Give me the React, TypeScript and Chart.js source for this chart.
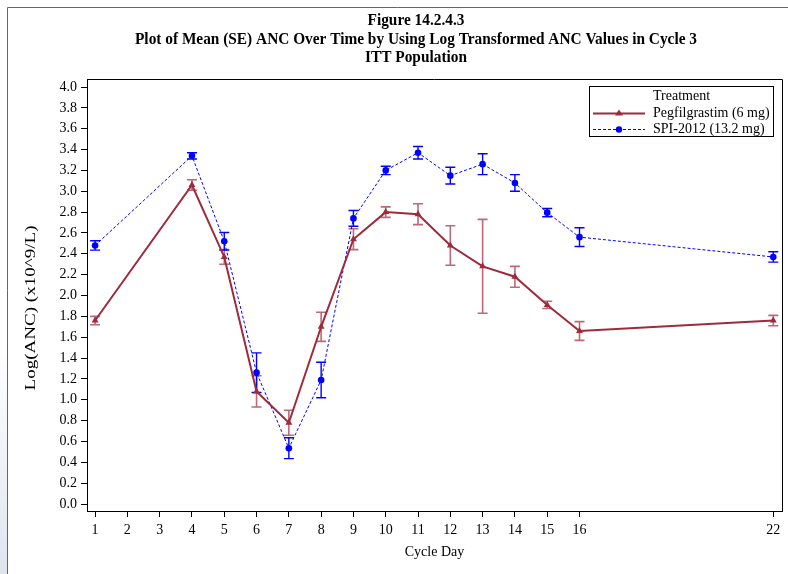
import React, { useEffect, useRef } from "react";
import { Chart, registerables } from "chart.js";
Chart.register(...registerables);

const DAYS = [1, 4, 5, 6, 7, 8, 9, 10, 11, 12, 13, 14, 15, 16, 22];
const PEG_MEAN = [1.76, 3.06, 2.37, 1.08, 0.78, 1.7, 2.54, 2.8, 2.78, 2.48, 2.28, 2.18, 1.91, 1.66, 1.76];
const PEG_SE = [0.04, 0.05, 0.07, 0.15, 0.12, 0.14, 0.1, 0.05, 0.1, 0.19, 0.45, 0.1, 0.035, 0.09, 0.05];
const SPI_MEAN = [2.48, 3.34, 2.52, 1.26, 0.535, 1.19, 2.74, 3.2, 3.37, 3.15, 3.26, 3.08, 2.795, 2.56, 2.37];
const SPI_SE = [0.045, 0.03, 0.085, 0.19, 0.1, 0.17, 0.075, 0.04, 0.06, 0.08, 0.1, 0.08, 0.04, 0.09, 0.05];

const X_TICKS = [1, 2, 3, 4, 5, 6, 7, 8, 9, 10, 11, 12, 13, 14, 15, 16, 22];
const Y_TICKS = [0, 0.2, 0.4, 0.6, 0.8, 1.0, 1.2, 1.4, 1.6, 1.8, 2.0, 2.2, 2.4, 2.6, 2.8, 3.0, 3.2, 3.4, 3.6, 3.8, 4.0];

const TITLE_LINES = [
  "Figure 14.2.4.3",
  "Plot of Mean (SE) ANC Over Time by Using Log Transformed ANC Values in Cycle 3",
  "ITT Population",
];
const X_TITLE = "Cycle Day";
const Y_TITLE = "Log(ANC) (x10^9/L)";
const LEGEND_TITLE = "Treatment";
const SERIES_NAMES = ["Pegfilgrastim (6 mg)", "SPI-2012 (13.2 mg)"];

const RED = "#9E2A3C";
const RED_ERR = "rgba(158,42,60,0.7)";
const BLUE = "#0000FF";
const SERIF = "'Liberation Serif', 'Times New Roman', serif";

const ERRORS = [PEG_SE, SPI_SE];
const MEANS = [PEG_MEAN, SPI_MEAN];

const errorBarPlugin = {
  id: "errorBars",
  beforeDatasetsDraw(chart: any) {
    const ctx = chart.ctx;
    const xs = chart.scales.x;
    const ys = chart.scales.y;
    ctx.save();
    MEANS.forEach((means, di) => {
      ctx.strokeStyle = di === 0 ? RED_ERR : BLUE;
      ctx.lineWidth = di === 0 ? 1.6 : 1.4;
      means.forEach((m, i) => {
        const se = ERRORS[di][i];
        const x = xs.getPixelForValue(DAYS[i]);
        const yt = ys.getPixelForValue(m + se);
        const yb = ys.getPixelForValue(m - se);
        ctx.beginPath();
        ctx.moveTo(x, yt);
        ctx.lineTo(x, yb);
        ctx.moveTo(x - 5, yt);
        ctx.lineTo(x + 5, yt);
        ctx.moveTo(x - 5, yb);
        ctx.lineTo(x + 5, yb);
        ctx.stroke();
      });
    });
    ctx.restore();
  },
};

const decorPlugin = {
  id: "decor",
  afterDraw(chart: any) {
    const ctx = chart.ctx;
    const a = chart.chartArea;
    ctx.save();
    // frame top/right
    ctx.strokeStyle = "#000";
    ctx.lineWidth = 1;
    ctx.beginPath();
    ctx.moveTo(a.left, Math.round(a.top) + 0.5);
    ctx.lineTo(Math.round(a.right) + 0.5, Math.round(a.top) + 0.5);
    ctx.lineTo(Math.round(a.right) + 0.5, a.bottom);
    ctx.stroke();
    // outer frame
    ctx.strokeStyle = "#666";
    ctx.beginPath();
    ctx.moveTo(7.5, 574);
    ctx.lineTo(7.5, 7.5);
    ctx.lineTo(788, 7.5);
    ctx.stroke();

    ctx.fillStyle = "#000";
    ctx.textAlign = "center";
    ctx.textBaseline = "middle";
    // titles (condensed bold)
    ctx.font = `bold 16px ${SERIF}`;
    const sx = 562 / ctx.measureText(TITLE_LINES[1]).width;
    const ty = [21, 39.5, 58];
    TITLE_LINES.forEach((t, i) => {
      ctx.save();
      ctx.translate(416, ty[i]);
      ctx.scale(sx, 1);
      ctx.fillText(t, 0, 0);
      ctx.restore();
    });

    ctx.font = `14px ${SERIF}`;
    ctx.fillText(X_TITLE, (a.left + a.right) / 2, 552);

    ctx.save();
    ctx.font = `15px ${SERIF}`;
    const ly0 = 165 / ctx.measureText(Y_TITLE).width;
    ctx.translate(31, 308);
    ctx.rotate(-Math.PI / 2);
    ctx.scale(ly0, 1);
    ctx.fillText(Y_TITLE, 0, 0);
    ctx.restore();

    // legend
    const lx = 589.5, ly = 86.5, lw = 184, lh = 50;
    ctx.strokeStyle = "#000";
    ctx.lineWidth = 1;
    ctx.strokeRect(lx, ly, lw, lh);
    ctx.textAlign = "left";
    ctx.font = `14px ${SERIF}`;
    ctx.fillText(LEGEND_TITLE, 653, 96);
    ctx.fillText(SERIES_NAMES[0], 653, 113);
    ctx.fillText(SERIES_NAMES[1], 653, 129);
    // red sample
    ctx.strokeStyle = RED;
    ctx.lineWidth = 2;
    ctx.beginPath();
    ctx.moveTo(593, 113.5);
    ctx.lineTo(645, 113.5);
    ctx.stroke();
    ctx.fillStyle = RED;
    ctx.beginPath();
    ctx.moveTo(619, 109.5);
    ctx.lineTo(623, 115.5);
    ctx.lineTo(615, 115.5);
    ctx.closePath();
    ctx.fill();
    // blue sample
    ctx.strokeStyle = BLUE;
    ctx.lineWidth = 1;
    ctx.setLineDash([3, 2]);
    ctx.beginPath();
    ctx.moveTo(593, 129.5);
    ctx.lineTo(645, 129.5);
    ctx.stroke();
    ctx.setLineDash([]);
    ctx.fillStyle = BLUE;
    ctx.beginPath();
    ctx.arc(619, 129.5, 3.2, 0, Math.PI * 2);
    ctx.fill();
    ctx.restore();
  },
};

export default function App() {
  const ref = useRef<HTMLCanvasElement>(null);
  useEffect(() => {
    if (!ref.current) return;
    const chart = new Chart(ref.current, {
      type: "line",
      data: {
        datasets: [
          {
            label: SERIES_NAMES[0],
            data: DAYS.map((d, i) => ({ x: d, y: PEG_MEAN[i] })),
            borderColor: RED,
            backgroundColor: RED,
            borderWidth: 2,
            pointStyle: "triangle",
            pointRadius: 4,
            pointBorderWidth: 0,
            tension: 0,
          },
          {
            label: SERIES_NAMES[1],
            data: DAYS.map((d, i) => ({ x: d, y: SPI_MEAN[i] })),
            borderColor: BLUE,
            backgroundColor: BLUE,
            borderWidth: 1,
            borderDash: [3, 2],
            pointStyle: "circle",
            pointRadius: 3.3,
            pointBorderWidth: 0,
            tension: 0,
          },
        ],
      },
      options: {
        responsive: false,
        animation: false,
        events: [],
        layout: { padding: { top: 79, right: 6, left: 0, bottom: 0 } },
        plugins: {
          legend: { display: false },
          title: { display: false },
          tooltip: { enabled: false },
        },
        scales: {
          x: {
            type: "linear",
            min: 0.75,
            max: 22.27,
            afterBuildTicks: (s: any) => {
              s.ticks = X_TICKS.map((v) => ({ value: v }));
            },
            afterFit: (s: any) => {
              s.height = 63;
            },
            grid: { display: true, drawOnChartArea: false, drawTicks: true, tickLength: 6, color: "#000" },
            border: { display: true, color: "#000", width: 1 },
            ticks: {
              autoSkip: false,
              maxRotation: 0,
              padding: 5,
              color: "#000",
              font: { family: SERIF, size: 14 },
              callback: (v: any) => String(v),
            },
          },
          y: {
            type: "linear",
            min: -0.067,
            max: 4.077,
            afterBuildTicks: (s: any) => {
              s.ticks = Y_TICKS.map((v) => ({ value: v }));
            },
            afterFit: (s: any) => {
              s.width = 87;
            },
            grid: { display: true, drawOnChartArea: false, drawTicks: true, tickLength: 6, color: "#000" },
            border: { display: true, color: "#000", width: 1 },
            ticks: {
              autoSkip: false,
              padding: 4,
              color: "#000",
              font: { family: SERIF, size: 14 },
              callback: (v: any) => Number(v).toFixed(1),
            },
          },
        },
      },
      plugins: [errorBarPlugin, decorPlugin],
    } as any);
    return () => chart.destroy();
  }, []);
  return (
    <div style={{ position: "absolute", left: 0, top: 0, width: 788, height: 574, background: "#fff" }}>
      <div
        style={{
          position: "absolute",
          left: 0,
          top: 0,
          width: 7,
          height: 574,
          background: "linear-gradient(to bottom, #ffffff 0%, #ffffff 60%, #dfe4f0 100%)",
        }}
      />
      <canvas ref={ref} width={788} height={574} style={{ position: "absolute", left: 0, top: 0 }} />
    </div>
  );
}
